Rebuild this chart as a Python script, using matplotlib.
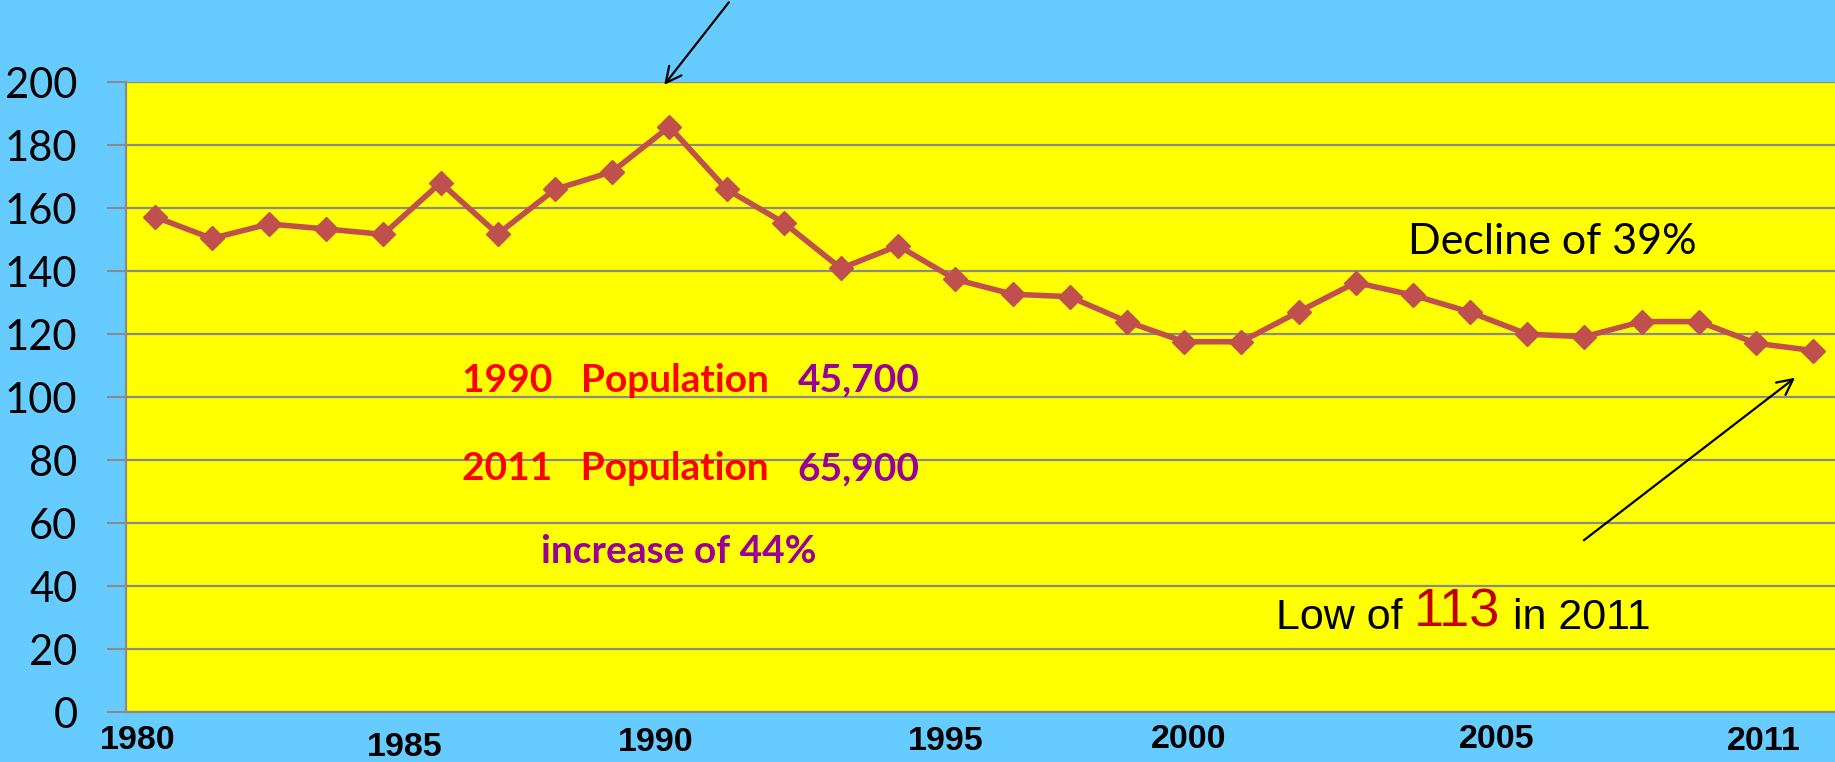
import matplotlib
matplotlib.use("Agg")
import matplotlib.pyplot as plt

# values, one per year shown
years = list(range(1980, 2010))
values = [157.3, 150.4, 155.0, 153.4, 151.7, 168.1, 151.8, 166.0, 171.6, 185.9,
          166.0, 155.4, 140.9, 148.1, 137.4, 132.7, 131.9, 124.0, 117.6, 117.6,
          127.1, 136.4, 132.4, 127.0, 120.0, 119.2, 124.0, 124.0, 117.1, 114.8]

# hand-placed year labels (position along category axis, height below axis)
xlabels = ["1980", "1985", "1990", "1995", "2000", "2005", "2011"]
xlabel_pos = [-0.29, 4.38, 8.76, 13.83, 18.08, 23.47, 28.14]
xlabel_y = [-0.0445, -0.057, -0.048, -0.0465, -0.0435, -0.0435, -0.0465]

yticks = list(range(0, 201, 20))

BLUE = "#66CCFF"
YELLOW = "#FFFF00"
GRID = "#8A8A8A"
LINE = "#C0504D"
RED = "#FF0000"
PURPLE = "#990099"

fig = plt.figure(figsize=(18.35, 7.62), dpi=100, facecolor=BLUE)
ax = fig.add_axes([126 / 1835, 1 - 712 / 762, 1 - 126 / 1835, (712 - 82.3) / 762])
ax.set_facecolor(YELLOW)

x = list(range(len(values)))
ax.plot(x, values, color=LINE, lw=4, marker="D", markersize=12,
        markerfacecolor=LINE, markeredgecolor=LINE, zorder=3)

ax.set_xlim(-0.5, 29.38)
ax.set_ylim(0, 200)
ax.set_yticks(yticks)
ax.set_yticklabels([str(v) for v in yticks], fontsize=30, family="Lato")
ax.tick_params(axis="y", length=14, width=1.5, color=GRID, pad=21)
ax.set_xticks([])
ax.grid(axis="y", color=GRID, lw=1.6)
ax.set_axisbelow(True)
for s in ["top", "right"]:
    ax.spines[s].set_visible(False)
for s in ["left", "bottom"]:
    ax.spines[s].set_color(GRID)
    ax.spines[s].set_linewidth(1.6)

for lab, px, py in zip(xlabels, xlabel_pos, xlabel_y):
    ax.text(px, py, lab, transform=ax.get_xaxis_transform(), ha="center",
            va="center", fontsize=24.5, fontweight="bold", family="Liberation Sans")

# population notes
for ypos, year, pop in [(105.4, "1990", "45,700"), (77.2, "2011", "65,900")]:
    t = ax.text(5.38, ypos, year + "   Population   ", color=RED, fontsize=28,
                fontweight="bold", family="Lato", va="center")
    ax.annotate(pop, xy=(1, 0), xycoords=t, va="bottom", color=PURPLE,
                fontsize=28, fontweight="bold", family="Lato")
ax.text(9.16, 51.1, "increase of 44%", color=PURPLE, fontsize=28,
        fontweight="bold", family="Lato", ha="center", va="center")

ax.text(21.91, 149.3, "Decline of 39%", fontsize=31, family="Lato", va="center")

t1 = ax.text(19.6, 26.5, "Low of ", fontsize=31, family="Liberation Sans",
             va="baseline")
t2 = ax.annotate("113", xy=(1, 0), xycoords=t1, va="bottom", color="#C00000",
                 fontsize=39, family="Liberation Sans")
ax.annotate(" in 2011", xy=(1, 0), xycoords=t2, va="bottom",
            fontsize=31, family="Liberation Sans")

# arrows
ax.annotate("", xy=(8.88, 198.5), xytext=(10.07, 226.1), annotation_clip=False,
            arrowprops=dict(arrowstyle="->", color="black", lw=1.6,
                            mutation_scale=28))
ax.annotate("", xy=(28.72, 106.7), xytext=(24.95, 54.0), annotation_clip=False,
            arrowprops=dict(arrowstyle="->", color="black", lw=1.6,
                            mutation_scale=28))

fig.savefig("out.png", dpi=100, facecolor=BLUE)
